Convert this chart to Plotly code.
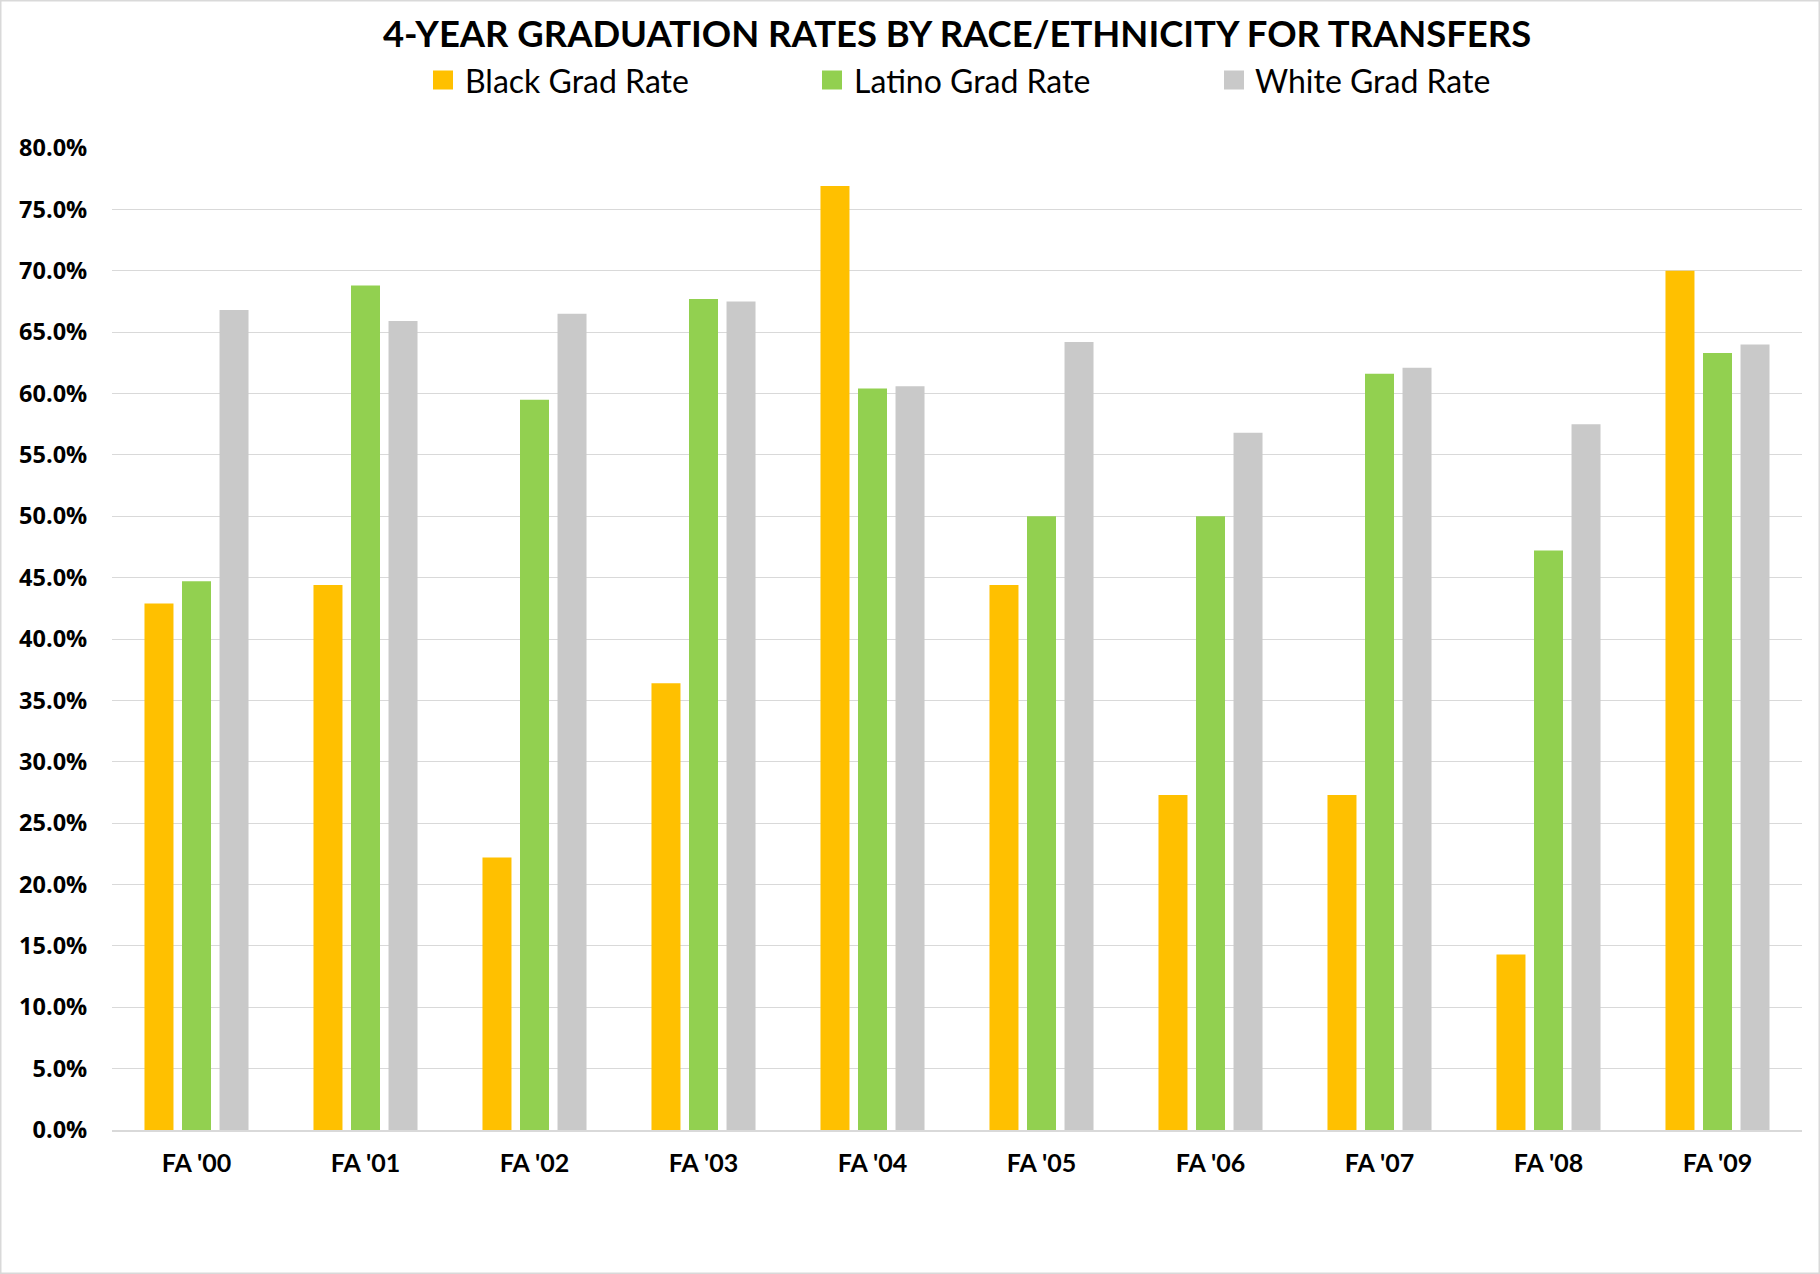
import plotly.graph_objects as go

categories = ["FA '00", "FA '01", "FA '02", "FA '03", "FA '04",
              "FA '05", "FA '06", "FA '07", "FA '08", "FA '09"]
black_rate = [42.9, 44.4, 22.2, 36.4, 76.9, 44.4, 27.3, 27.3, 14.3, 70.0]
latino_rate = [44.7, 68.8, 59.5, 67.7, 60.4, 50.0, 50.0, 61.6, 47.2, 63.3]
white_rate = [66.8, 65.9, 66.5, 67.5, 60.6, 64.2, 56.8, 62.1, 57.5, 64.0]
series_names = ["Black Grad Rate", "Latino Grad Rate", "White Grad Rate"]
series_colors = ["#FFC000", "#92D050", "#C9C9C9"]
y_ticks = [i * 5 for i in range(17)]

W, H = 1820, 1274
L, R, T, B = 112, 18, 148, 144
pw, ph = W - L - R, H - T - B

FONT = "Lato, Open Sans, sans-serif"


def px_x(p):
    return (p - L) / pw


def px_y(p):
    return (H - B - p) / ph


fig = go.Figure()
for name, vals, col in zip(series_names, [black_rate, latino_rate, white_rate], series_colors):
    fig.add_trace(go.Bar(x=categories, y=vals, name=name, marker_color=col,
                         marker_line_width=0, showlegend=False))

fig.update_layout(
    width=W, height=H,
    margin=dict(l=L, r=R, t=T, b=B),
    paper_bgcolor="white", plot_bgcolor="white",
    barmode="group", bargap=0.334, bargroupgap=0.227,
    title=dict(text="<b>4-YEAR GRADUATION RATES BY RACE/ETHNICITY FOR TRANSFERS</b>",
               x=0.5, xref="paper", xanchor="center",
               y=1 - 34 / H, yref="container", yanchor="middle",
               font=dict(family=FONT, size=36.4, color="#000000")),
    xaxis=dict(showgrid=False, showline=True, linecolor="#D9D9D9", linewidth=2,
               ticks="outside", ticklen=10, tickcolor="rgba(0,0,0,0)",
               tickfont=dict(family=FONT, size=25, color="#000000"),
               tickprefix="<b>", ticksuffix="</b>"),
    yaxis=dict(range=[0, 80], tickvals=y_ticks,
               ticktext=[f"<b>{v:.1f}%</b>" for v in y_ticks],
               showgrid=True, gridcolor="#D9D9D9", gridwidth=1.4,
               zeroline=False, showline=False,
               ticks="outside", ticklen=19, tickcolor="rgba(0,0,0,0)",
               tickfont=dict(family="Open Sans, sans-serif", size=23.5, color="#000000")),
    showlegend=False,
)

# custom legend (squares + labels) placed like the reference
legend_marker_left = [433, 822, 1224]
legend_text_left = [463, 852, 1253]
for name, col, mx, tx in zip(series_names, series_colors, legend_marker_left, legend_text_left):
    fig.add_shape(type="rect", xref="paper", yref="paper",
                  x0=px_x(mx), x1=px_x(mx + 20), y0=px_y(89.5), y1=px_y(70.5),
                  line=dict(width=0), fillcolor=col)
    fig.add_annotation(text=name, xref="paper", yref="paper",
                       x=px_x(tx), y=px_y(80), xanchor="left", yanchor="middle",
                       showarrow=False,
                       font=dict(family=FONT, size=32, color="#000000"))

# outer chart border
fig.add_shape(type="rect", xref="paper", yref="paper",
              x0=px_x(0.75), x1=px_x(W - 0.75),
              y0=px_y(H - 0.75), y1=px_y(0.75),
              line=dict(color="#D9D9D9", width=1.5), fillcolor="rgba(0,0,0,0)",
              layer="below")

fig.write_html("out.html", config={"displayModeBar": False},
               post_script="document.body.style.margin='0';document.body.style.overflow='hidden';")
